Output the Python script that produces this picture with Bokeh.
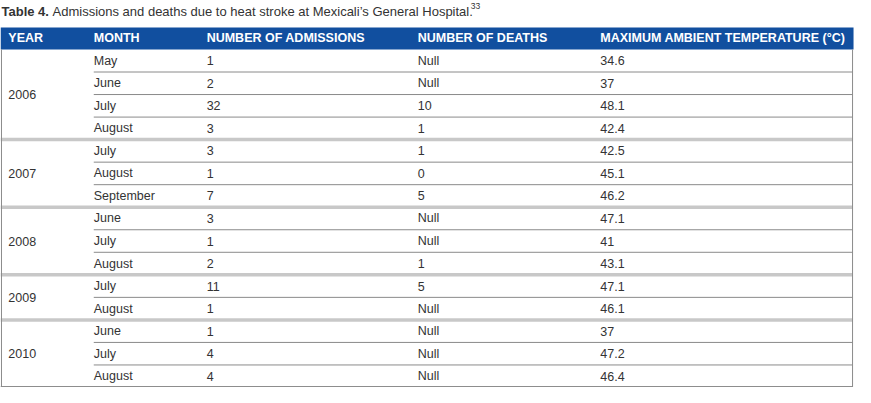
from bokeh.plotting import figure
from bokeh.models import Range1d, ColumnDataSource
from bokeh.core.properties import value
from bokeh.embed import file_html
from bokeh.resources import INLINE

title_bold = "Table 4."
title_rest = "Admissions and deaths due to heat stroke at Mexicali\u2019s General Hospital."
title_ref = "33"

headers = ["YEAR", "MONTH", "NUMBER OF ADMISSIONS", "NUMBER OF DEATHS",
           "MAXIMUM AMBIENT TEMPERATURE (\u00b0C)"]
years = ["2006", "2007", "2008", "2009", "2010"]
year_counts = [4, 3, 3, 2, 3]
months = ["May", "June", "July", "August",
          "July", "August", "September",
          "June", "July", "August",
          "July", "August",
          "June", "July", "August"]
admissions = ["1", "2", "32", "3", "3", "1", "7", "3", "1", "2", "11", "1", "1", "4", "4"]
deaths = ["Null", "Null", "10", "1", "1", "0", "5", "Null", "Null", "1", "5", "Null",
          "Null", "Null", "Null"]
max_temp = ["34.6", "37", "48.1", "42.4", "42.5", "45.1", "46.2", "47.1", "41", "43.1",
            "47.1", "46.1", "37", "47.2", "46.4"]

W, H = 871, 403
col_x = [8, 95, 210, 425, 611]
head_top, head_bot = 28, 51
row_h = (H - head_bot) / len(months)
right = 868
FONT = value("Liberation Sans")
blue = "#114f9f"
txt = "#333333"

p = figure(width=855, height=387, x_range=Range1d(0, W), y_range=Range1d(H, 0),
           output_backend="svg", toolbar_location=None, min_border=0)
p.axis.visible = False
p.grid.visible = False
p.outline_line_color = None
p.background_fill_color = "white"

# title
p.text(x=[1], y=[11], text=[title_bold], text_font=FONT, text_font_style="bold",
       text_font_size="13px", text_color=txt, text_baseline="middle")
p.text(x=[53], y=[11], text=[title_rest], text_font=FONT,
       text_font_size="13px", text_color=txt, text_baseline="middle")
p.text(x=[479], y=[6], text=[title_ref], text_font=FONT,
       text_font_size="8.5px", text_color=txt, text_baseline="middle")

# header band
p.quad(left=[0], right=[right + 1], top=[head_top], bottom=[head_bot],
       fill_color=blue, line_color=None)
p.text(x=col_x, y=[(head_top + head_bot) / 2] * 5, text=headers, text_font=FONT,
       text_font_style="bold", text_font_size="12.5px", text_color="white",
       text_baseline="middle")

# row lines
starts = []
s = 0
for c in year_counts:
    starts.append(s)
    s += c
thin_xs, thin_ys = [], []
thick_xs, thick_ys = [], []
for gi, (st, c) in enumerate(zip(starts, year_counts)):
    for k in range(1, c):
        y = head_bot + (st + k) * row_h
        thin_xs.append([col_x[1], right])
        thin_ys.append([y, y])
    if gi > 0:
        y = head_bot + st * row_h
        thick_xs.append([0, right])
        thick_ys.append([y, y])
p.multi_line(xs=thin_xs, ys=thin_ys, line_color="#8a8a8a", line_width=1)
p.multi_line(xs=thick_xs, ys=thick_ys, line_color="#c8c8c8", line_width=3.5)
# borders
p.multi_line(xs=[[1, 1], [right, right], [0, right]],
             ys=[[head_bot, H], [head_bot, H], [H - 1, H - 1]],
             line_color="#8a8a8a", line_width=1)

# body text
n = len(months)
ys = [head_bot + (i + 0.5) * row_h for i in range(n)]
src = ColumnDataSource(dict(y=ys, m=months, a=admissions, d=deaths, t=max_temp))
for cx, col in zip(col_x[1:], ["m", "a", "d", "t"]):
    p.text(x=cx, y="y", text=col, source=src, text_font=FONT,
           text_font_size="12.5px", text_color=txt, text_baseline="middle")
year_y = [head_bot + (st + c / 2) * row_h for st, c in zip(starts, year_counts)]
p.text(x=[col_x[0]] * len(years), y=year_y, text=years, text_font=FONT,
       text_font_size="12.5px", text_color=txt, text_baseline="middle")

open("out.html", "w").write(file_html(p, INLINE))
